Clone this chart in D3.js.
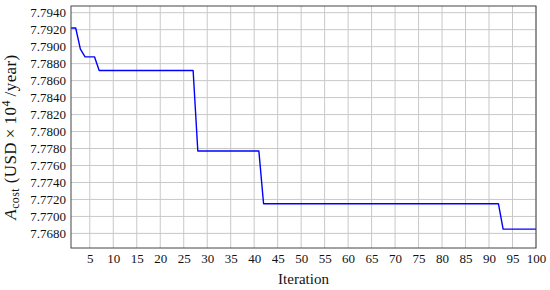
<!DOCTYPE html>
<html>
<head>
<meta charset="utf-8">
<script src="https://d3js.org/d3.v7.min.js"></script>
<style>
  body { margin: 0; background: #fff; }
  text { font-family: "Liberation Serif", "DejaVu Serif", serif; fill: #111; }
</style>
</head>
<body>
<div id="chart"></div>
<script>
// Data
const iterations = d3.range(1, 101);
const costValues = [
    7.7922, 7.7922, 7.7897, 7.7888, 7.7888, 7.7888, 7.7872, 7.7872, 7.7872, 7.7872,
    7.7872, 7.7872, 7.7872, 7.7872, 7.7872, 7.7872, 7.7872, 7.7872, 7.7872, 7.7872,
    7.7872, 7.7872, 7.7872, 7.7872, 7.7872, 7.7872, 7.7872, 7.7777, 7.7777, 7.7777,
    7.7777, 7.7777, 7.7777, 7.7777, 7.7777, 7.7777, 7.7777, 7.7777, 7.7777, 7.7777,
    7.7777, 7.7715, 7.7715, 7.7715, 7.7715, 7.7715, 7.7715, 7.7715, 7.7715, 7.7715,
    7.7715, 7.7715, 7.7715, 7.7715, 7.7715, 7.7715, 7.7715, 7.7715, 7.7715, 7.7715,
    7.7715, 7.7715, 7.7715, 7.7715, 7.7715, 7.7715, 7.7715, 7.7715, 7.7715, 7.7715,
    7.7715, 7.7715, 7.7715, 7.7715, 7.7715, 7.7715, 7.7715, 7.7715, 7.7715, 7.7715,
    7.7715, 7.7715, 7.7715, 7.7715, 7.7715, 7.7715, 7.7715, 7.7715, 7.7715, 7.7715,
    7.7715, 7.7715, 7.7685, 7.7685, 7.7685, 7.7685, 7.7685, 7.7685, 7.7685, 7.7685
];
const xTicks = d3.range(5, 101, 5);
const yTicks = [7.7680, 7.7700, 7.7720, 7.7740, 7.7760, 7.7780, 7.7800, 7.7820,
                7.7840, 7.7860, 7.7880, 7.7900, 7.7920, 7.7940];

// Chart sizing
const margin = { top: 6, right: 14, bottom: 42, left: 71 };
const WIDTH = 550 - margin.left - margin.right;
const HEIGHT = 290 - margin.top - margin.bottom;

const svg = d3.select("#chart")
    .append("svg")
        .attr("width", 550)
        .attr("height", 290);

const plot = svg.append("g")
    .attr("transform", `translate(${margin.left}, ${margin.top})`);

const x = d3.scaleLinear().domain([1, 100]).range([0, WIDTH]);
const y = d3.scaleLinear().domain([7.76628, 7.79479]).range([HEIGHT, 0]);

// Grid
plot.append("g")
    .selectAll("line")
    .data(xTicks)
    .enter()
    .append("line")
        .attr("x1", d => x(d)).attr("x2", d => x(d))
        .attr("y1", 0).attr("y2", HEIGHT)
        .attr("stroke", "#c8c8c8")
        .attr("stroke-width", 1);

plot.append("g")
    .selectAll("line")
    .data(yTicks)
    .enter()
    .append("line")
        .attr("x1", 0).attr("x2", WIDTH)
        .attr("y1", d => y(d)).attr("y2", d => y(d))
        .attr("stroke", "#c8c8c8")
        .attr("stroke-width", 1);

// Axes
const xAxis = plot.append("g")
    .attr("transform", `translate(0, ${HEIGHT})`)
    .call(d3.axisBottom(x).tickValues(xTicks).tickSize(0).tickPadding(6));

const yAxis = plot.append("g")
    .call(d3.axisLeft(y).tickValues(yTicks).tickFormat(d3.format(".4f")).tickSize(0).tickPadding(5));

[xAxis, yAxis].forEach(a => {
    a.select(".domain").remove();
    a.selectAll("text")
        .style("font-family", '"Liberation Serif", "DejaVu Serif", serif')
        .style("font-size", "13px")
        .attr("fill", "#111");
});

// Series
const line = d3.line()
    .x((d, i) => x(iterations[i]))
    .y(d => y(d));

plot.append("path")
    .datum(costValues)
    .attr("d", line)
    .attr("fill", "none")
    .attr("stroke", "#0000ff")
    .attr("stroke-width", 1.4)
    .attr("stroke-linejoin", "round");

// Frame
plot.append("rect")
    .attr("width", WIDTH)
    .attr("height", HEIGHT)
    .attr("fill", "none")
    .attr("stroke", "#444")
    .attr("stroke-width", 1);

// Labels
svg.append("text")
    .attr("x", margin.left + WIDTH / 2)
    .attr("y", 284)
    .attr("text-anchor", "middle")
    .style("font-size", "15px")
    .text("Iteration");

const yLabel = svg.append("text")
    .attr("transform", `translate(16, ${margin.top + HEIGHT / 2 + 10}) rotate(-90)`)
    .attr("text-anchor", "middle")
    .style("font-size", "17px")
    .style("letter-spacing", "0.4px");
yLabel.append("tspan").style("font-style", "italic").text("A");
yLabel.append("tspan").attr("dy", 3).style("font-size", "12px").text("cost");
yLabel.append("tspan").attr("dy", -3).text(" (USD\u2009×\u200910");
yLabel.append("tspan").attr("dy", -6).style("font-size", "12px").text("4");
yLabel.append("tspan").attr("dy", 6).text("\u2009/year)");
</script>
</body>
</html>
